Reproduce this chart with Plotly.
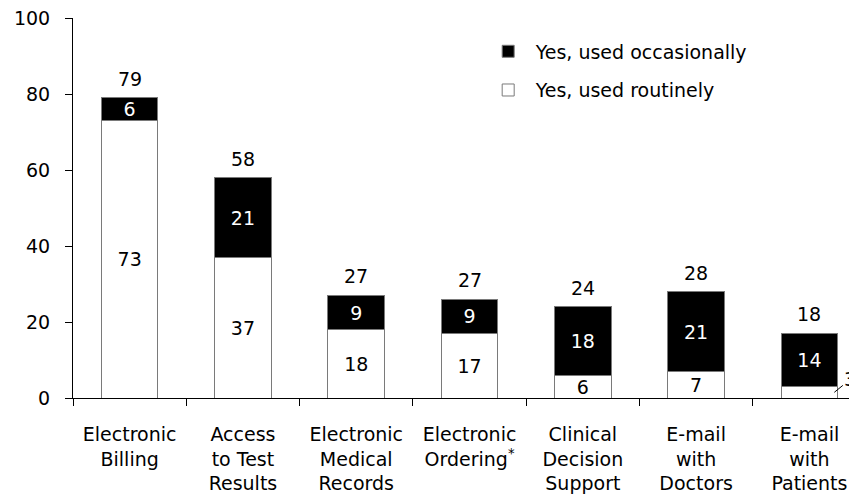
import plotly.graph_objects as go

# ------------------------------------------------------------------
# data

categories = ['Electronic<br>Billing',
              'Access<br>to Test<br>Results',
              'Electronic<br>Medical<br>Records',
              'Electronic<br>Ordering<sup>*</sup>',
              'Clinical<br>Decision<br>Support',
              'E-mail<br>with<br>Doctors',
              'E-mail<br>with<br>Patients']

routinely = [73, 37, 18, 17, 6, 7, 3]
occasionally = [6, 21, 9, 9, 18, 21, 14]
totals = [79, 58, 27, 27, 24, 28, 18]

y_ticks = [0, 20, 40, 60, 80, 100]

FONT = 'DejaVu Sans'
SIZE = 19

# ------------------------------------------------------------------

# the 3 on the last bar is too small to sit inside, it gets a leader line instead
routine_text = [str(v) if v > 4 else '' for v in routinely]

fig = go.Figure()

fig.add_trace(go.Bar(x=categories, y=routinely, name='Yes, used routinely',
                     legendgroup='r', legendrank=2, width=0.5,
                     marker=dict(color='white', line=dict(color='#7a7a7a', width=1)),
                     text=routine_text, textposition='inside', textangle=0,
                     insidetextanchor='middle',
                     insidetextfont=dict(family=FONT, size=SIZE, color='black')))

fig.add_trace(go.Bar(x=categories, y=occasionally, name='Yes, used occasionally',
                     legendgroup='o', legendrank=1, width=0.5,
                     marker=dict(color='black', line=dict(color='#7a7a7a', width=1)),
                     text=[str(v) for v in occasionally], textposition='inside',
                     textangle=0, insidetextanchor='middle',
                     insidetextfont=dict(family=FONT, size=SIZE, color='white')))

# total above each stack
for i, t in enumerate(totals):
    fig.add_annotation(x=i, y=routinely[i] + occasionally[i], text=str(t),
                       showarrow=False, yanchor='bottom', yshift=6,
                       font=dict(family=FONT, size=SIZE, color='black'))

# leader line for the small segment
last = len(categories) - 1
fig.add_annotation(x=last + 0.22, y=routinely[last] / 2, text=str(routinely[last]),
                   showarrow=True, arrowhead=0, arrowwidth=1, arrowcolor='black',
                   ax=16, ay=-13,
                   font=dict(family=FONT, size=SIZE, color='black'))

# page body adds an 8px margin, so the figure is sized to sit inside 857x500
fig.update_layout(
    width=849, height=492,
    margin=dict(l=65, r=0, t=10, b=102),
    barmode='stack',
    plot_bgcolor='white', paper_bgcolor='white',
    font=dict(family=FONT, size=SIZE, color='black'),
    uniformtext=dict(minsize=SIZE, mode='show'),
    legend=dict(x=0.52, y=0.962, xanchor='left', yanchor='top',
                traceorder='grouped', tracegroupgap=11, itemwidth=45,
                bgcolor='rgba(0,0,0,0)',
                font=dict(family=FONT, size=SIZE, color='black')),
    xaxis=dict(type='category', range=[-0.5, 6.42], tickson='boundaries',
               ticks='outside', ticklen=7, tickcolor='black',
               showline=True, linecolor='black', linewidth=1,
               showgrid=False, zeroline=False, ticklabelstandoff=19,
               automargin=False, tickfont=dict(family=FONT, size=SIZE)),
    yaxis=dict(range=[0, 100], tickvals=y_ticks, ticks='outside', ticklen=7,
               tickcolor='black', showline=True, linecolor='black', linewidth=1,
               showgrid=False, zeroline=False, ticklabelstandoff=11,
               ticklabeloverflow='allow',
               automargin=False, tickfont=dict(family=FONT, size=SIZE)),
)

fig.write_html('out.html')
